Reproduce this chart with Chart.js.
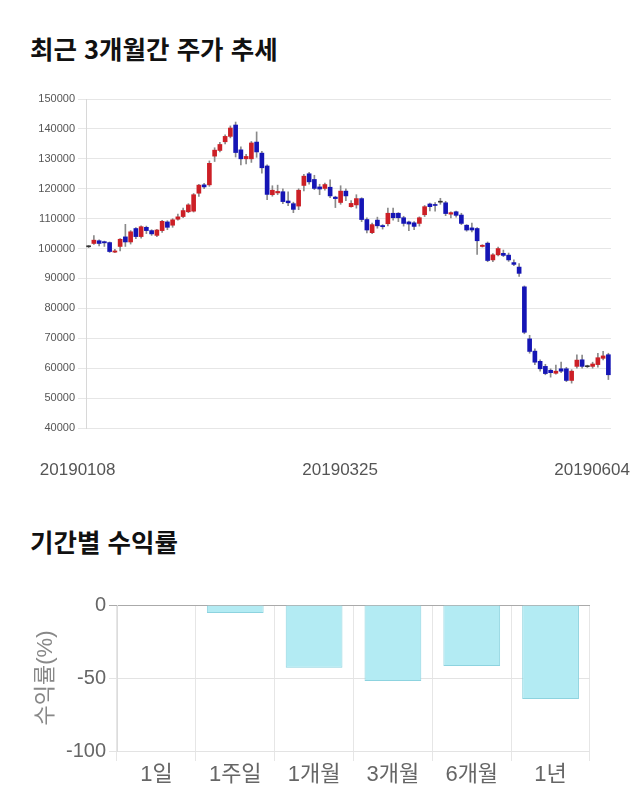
<!DOCTYPE html>
<html lang="ko">
<head>
<meta charset="UTF-8">
<title>주가 추세</title>
<script src="https://cdn.jsdelivr.net/npm/chart.js@4.4.0/dist/chart.umd.min.js"></script>
<style>
    body { margin: 0; background: #fff; width: 640px; height: 810px; position: relative; overflow: hidden; }
    h2 {
        position: absolute; left: 30px; margin: 0;
        font-family: 'Noto Sans CJK KR', sans-serif; font-weight: bold;
        font-size: 25.5px; color: #111; line-height: 1;
    }
    canvas { position: absolute; left: 0; }
</style>
</head>
<body>
<h2 style="top: 35px;">최근 3개월간 주가 추세</h2>
<canvas id="priceChart" width="640" height="395" style="top:85px"></canvas>

<h2 style="top: 528px;">기간별 수익률</h2>
<canvas id="returnChart" width="640" height="220" style="top:580px"></canvas>

<script>
// 일봉 (시가 / 고가 / 저가 / 종가), 2019-01-08 ~ 2019-06-04
var opens = [100600, 101700, 102600, 102300, 102000, 98800, 100700, 103900, 102200, 106700,
    104000, 107100, 106000, 104400, 106000, 108900, 107800, 109800, 110700, 112300,
    112500, 118500, 121300, 121300, 130900, 132800, 135700, 137500, 141300, 133000,
    130000, 130000, 135600, 131900, 127600, 118000, 118600, 119000, 115900, 115000,
    114200, 121100, 125000, 123100, 120600, 120100, 120500, 117200, 115400, 119200,
    114000, 114600, 116700, 109700, 105300, 109500, 107700, 108300, 111800, 111800,
    110300, 108900, 108600, 108400, 111300, 114900, 114500, 115500, 115300, 111500,
    112300, 111200, 107800, 106900, 106700, 100700, 101800, 96200, 97900, 98400,
    97800, 95300, 93800, 87200, 69800, 65700, 62300, 60600, 59300, 58300,
    59800, 59800, 55900, 60600, 62800, 60500, 60600, 61200, 63300, 64500];
var highs = [101000, 104300, 102900, 102500, 102200, 99700, 103300, 108100, 106000, 107000,
    107600, 107500, 106300, 106400, 109400, 109300, 110000, 111500, 113500, 115000,
    118400, 121500, 121800, 129300, 133700, 135500, 138000, 141000, 142300, 134000,
    131500, 135800, 139000, 132500, 128000, 121000, 121200, 120000, 119000, 115500,
    120000, 124800, 125500, 124500, 121500, 121900, 123000, 117500, 121000, 120000,
    116000, 118000, 117000, 110300, 108500, 110500, 108000, 113500, 113500, 112000,
    110800, 109200, 109000, 110600, 114400, 115200, 115400, 116800, 115800, 112300,
    112500, 111800, 108000, 108500, 107000, 101300, 102200, 98300, 100500, 99500,
    98500, 96200, 95000, 87500, 71000, 66500, 62800, 61300, 59800, 61000,
    62000, 60300, 59500, 64500, 64400, 61000, 62000, 65000, 65600, 65000];
var lows = [100300, 101400, 100900, 100700, 98700, 98600, 99200, 100700, 101500, 103300,
    103500, 105000, 104400, 104000, 105400, 106300, 107100, 109500, 110300, 112000,
    112200, 117400, 120000, 120800, 129100, 132300, 135000, 137000, 130600, 128000,
    128300, 128800, 130500, 125200, 116300, 117500, 118000, 115000, 114300, 112000,
    113000, 119300, 121500, 119700, 118000, 119500, 117000, 113700, 114800, 116000,
    113800, 113500, 109000, 105200, 105000, 106800, 106500, 107600, 109500, 109000,
    107500, 106000, 106300, 107500, 110700, 112600, 112500, 114800, 111000, 110200,
    110500, 108000, 105800, 105600, 98000, 100500, 95600, 95600, 97500, 97300,
    95700, 94300, 90700, 71500, 65000, 61200, 59000, 57800, 57000, 58000,
    58500, 55500, 55000, 60000, 60000, 60200, 60000, 60300, 62800, 56200];
var closes = [100600, 102800, 101700, 101900, 99000, 99200, 103100, 102200, 105600, 104000,
    107300, 106000, 104900, 106200, 109100, 107100, 109600, 110600, 112700, 114600,
    118000, 121200, 120600, 128500, 132900, 134800, 137500, 140300, 132100, 130000,
    130800, 135300, 132300, 127000, 118100, 119500, 119100, 115700, 115300, 113100,
    119500, 124200, 122300, 120100, 119900, 121400, 117600, 116700, 119200, 117600,
    115100, 116700, 109700, 106200, 108000, 107600, 107300, 111800, 110300, 110300,
    108400, 108200, 107400, 110300, 114000, 114000, 114400, 115500, 111700, 112000,
    111100, 108400, 106200, 106200, 102600, 101100, 96000, 97900, 100000, 97700,
    96200, 94700, 91700, 72000, 65600, 62000, 59800, 58200, 58500, 59000,
    59000, 55900, 59000, 62700, 60600, 60500, 61400, 63500, 64100, 57800];
var xTickPos = [0, 50, 98];
var xTickLabels = ['20190108', '20190325', '20190604'];

// 기간별 수익률
var periods = ['1일', '1주일', '1개월', '3개월', '6개월', '1년'];
var returns = [0, -5.5, -43, -52, -41.8, -64.4];

Chart.defaults.font.family = "'Liberation Sans', 'Noto Sans CJK KR', sans-serif";
Chart.defaults.animation = false;

var UP = '#cc1f26', DOWN = '#1515b5', FLAT = '#333';
var bodyColors = opens.map(function (o, i) {
    if (closes[i] > o) return UP;
    if (closes[i] < o) return DOWN;
    return FLAT;
});

new Chart('priceChart', {
    type: 'bar',
    data: {
        labels: opens.map(function (_, i) { return i; }),
        datasets: [{
            data: lows.map(function (l, i) { return [l, highs[i]]; }),
            backgroundColor: '#8a8a8a',
            barThickness: 1,
            order: 2
        }, {
            data: opens.map(function (o, i) { return [o, closes[i]]; }),
            backgroundColor: bodyColors,
            barThickness: 4,
            minBarLength: 1,
            order: 1
        }]
    },
    options: {
        responsive: false,
        datasets: { bar: { grouped: false } },
        layout: { padding: { top: 14, right: 29, left: 0, bottom: 0 } },
        plugins: { legend: { display: false }, tooltip: { enabled: false } },
        scales: {
            x: {
                grid: { display: false },
                border: { display: false },
                ticks: {
                    autoSkip: false, maxRotation: 0, minRotation: 0,
                    padding: 24, labelOffset: -11,
                    color: '#555', font: { size: 17 },
                    callback: function (v, i) {
                        var k = xTickPos.indexOf(i);
                        return k >= 0 ? xTickLabels[k] : '';
                    }
                },
                afterFit: function (s) { s.height = 52; s.paddingLeft = 0; s.paddingRight = 0; }
            },
            y: {
                min: 40000, max: 150000,
                ticks: {
                    stepSize: 10000, color: '#555', font: { size: 11 },
                    callback: function (v) { return String(v); }
                },
                grid: { color: '#e6e6e6' },
                border: { color: '#d8d8d8' },
                afterFit: function (s) { s.width = 86; }
            }
        }
    }
});

new Chart('returnChart', {
    type: 'bar',
    data: {
        labels: periods,
        datasets: [{
            data: returns,
            backgroundColor: '#b3ebf3',
            borderColor: '#8dd3df',
            borderWidth: 1
        }]
    },
    options: {
        responsive: false,
        layout: { padding: { top: 25, right: 50, left: 0, bottom: 0 } },
        plugins: { legend: { display: false }, tooltip: { enabled: false } },
        scales: {
            x: {
                grid: {
                    tickLength: 10,
                    color: function (ctx) { return ctx.index === periods.length ? 'rgba(0,0,0,0)' : '#e6e6e6'; }
                },
                border: { display: false },
                ticks: { color: '#666', font: { size: 22 }, padding: 1 },
                afterFit: function (s) { s.height = 49; }
            },
            y: {
                min: -100, max: 0,
                ticks: { stepSize: 50, color: '#666', font: { size: 20 } },
                grid: { color: function (ctx) { return ctx.tick.value === 0 ? '#aaa' : '#e3e3e3'; } },
                border: { color: '#dcdcdc' },
                title: {
                    display: true, text: '수익률(%)', color: '#888',
                    font: { size: 22 }, padding: { top: 33, bottom: 0 }
                },
                afterFit: function (s) { s.width = 117; }
            }
        }
    }
});
</script>
</body>
</html>
